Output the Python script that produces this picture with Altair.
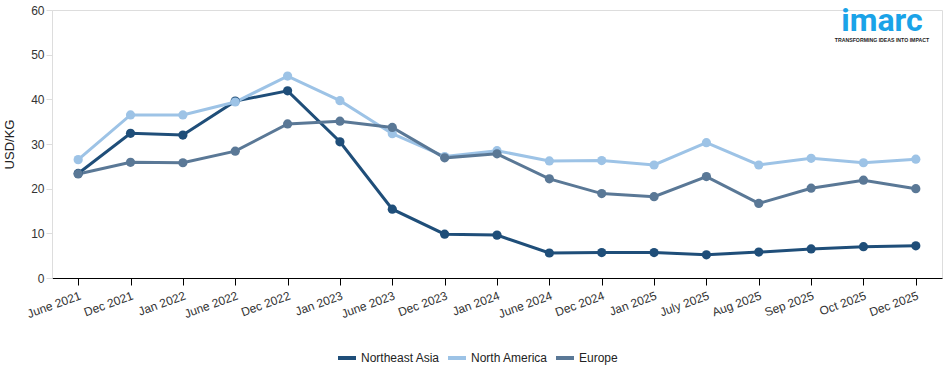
import altair as alt
import pandas as pd

periods = ["June 2021", "Dec 2021", "Jan 2022", "June 2022", "Dec 2022", "Jan 2023",
           "June 2023", "Dec 2023", "Jan 2024", "June 2024", "Dec 2024", "Jan 2025",
           "July 2025", "Aug 2025", "Sep 2025", "Oct 2025", "Dec 2025"]
northeast_asia = [23.4, 32.4, 32.0, 39.6, 41.9, 30.5, 15.4, 9.8, 9.6, 5.6, 5.7, 5.7, 5.2, 5.8, 6.5, 7.0, 7.2]
north_america = [26.5, 36.5, 36.5, 39.4, 45.2, 39.7, 32.3, 27.2, 28.5, 26.2, 26.3, 25.3, 30.3, 25.3, 26.8, 25.8, 26.6]
europe = [23.3, 25.9, 25.8, 28.4, 34.5, 35.1, 33.7, 26.9, 27.8, 22.2, 18.9, 18.2, 22.7, 16.7, 20.1, 21.9, 20.0]

series_names = ["Northeast Asia", "North America", "Europe"]
series_colors = ["#1F4E79", "#9DC3E6", "#5A7896"]

rows = []
for name, vals in zip(series_names, [northeast_asia, north_america, europe]):
    for p, v in zip(periods, vals):
        rows.append({"Period": p, "Region": name, "Value": v})
df = pd.DataFrame(rows)

FONT = "Liberation Sans"

x_enc = alt.X("Period:N", sort=periods, scale=alt.Scale(type="point", padding=0.5),
              axis=alt.Axis(title=None, labelAngle=-20, labelAlign="right", labelBaseline="top",
                            labelFont=FONT, labelFontSize=12, labelColor="#333333",
                            domainColor="#000000", tickColor="#000000", tickSize=7,
                            labelPadding=5, grid=False))
y_enc = alt.Y("Value:Q", scale=alt.Scale(domain=[0, 60]),
              axis=alt.Axis(title="USD/KG", values=[0, 10, 20, 30, 40, 50, 60],
                            labelFont=FONT, labelFontSize=12, labelColor="#333333",
                            titleFont=FONT, titleFontSize=13, titleFontWeight="normal",
                            titleColor="#222222", titlePadding=14,
                            domainColor="#DDDDDD", tickColor="#DDDDDD", tickSize=6, grid=False))
color_enc = alt.Color("Region:N", sort=series_names,
                      scale=alt.Scale(domain=series_names, range=series_colors),
                      legend=alt.Legend(title=None, orient="none", direction="horizontal",
                                        legendX=284, legendY=337, symbolType="stroke",
                                        symbolStrokeWidth=4, symbolSize=324,
                                        labelFont=FONT, labelFontSize=12, labelColor="#222222",
                                        columnPadding=0, labelOffset=3, symbolOffset=0))

base = alt.Chart(df).encode(x=x_enc, y=y_enc, color=color_enc)
lines = base.mark_line(strokeWidth=3)
points = base.mark_point(filled=True, size=85, opacity=1)

logo_df = pd.DataFrame({"t": ["imarc"]})
logo = alt.Chart(logo_df).mark_text(text="imarc", font="Roboto", fontSize=32, fontWeight="bold",
                                    color="#1AA3E8", align="center", baseline="alphabetic").encode(
    x=alt.value(830), y=alt.value(21))
tag = alt.Chart(logo_df).mark_text(text="TRANSFORMING IDEAS INTO IMPACT", font=FONT, fontSize=5.2,
                                   fontWeight="bold", color="#222222", align="center",
                                   baseline="top").encode(
    x=alt.value(830), y=alt.value(28))

chart = alt.layer(lines, points, logo, tag).properties(
    width=890, height=268,
    autosize=alt.AutoSizeParams(type="none"),
    padding={"left": 52, "top": 10, "right": 8, "bottom": 95}
).configure_view(stroke=None).configure(background="white")

chart.save("out.html", embed_options={"renderer": "svg", "actions": False})
